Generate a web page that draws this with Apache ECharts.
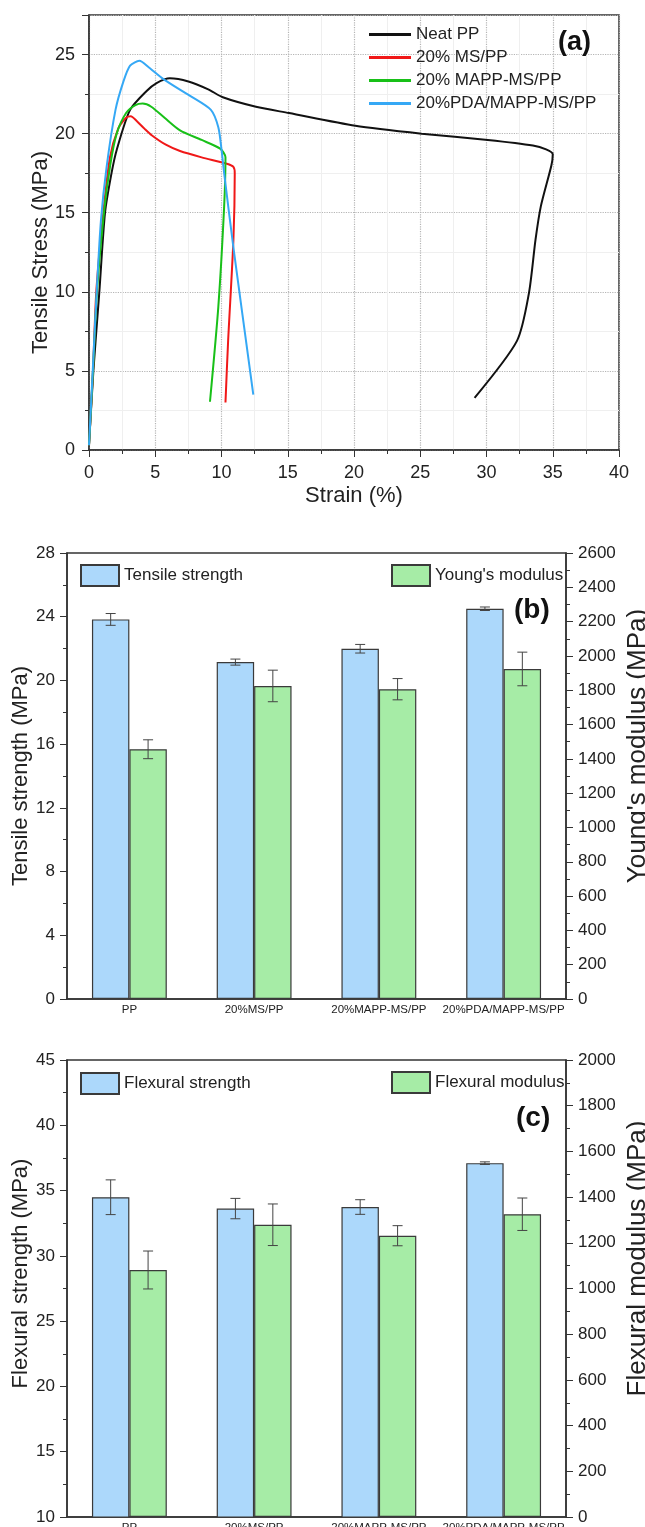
<!DOCTYPE html>
<html>
<head>
<meta charset="utf-8">
<script src="https://cdn.jsdelivr.net/npm/echarts@6/dist/echarts.min.js"></script>
<style>
  html, body { margin: 0; padding: 0; background: #fff; }
  #chart { width: 645px; height: 1527px; }
</style>
</head>
<body>
<div id="chart"></div>
<script>
// (a) stress-strain curves
const neatStrain = [0, 0.33, 0.78, 1.21, 1.7, 2.1, 3.1, 4.35, 5.1, 6.1, 7.5, 9.0, 10.1, 12.6, 15.1, 20.1, 25.1, 30.1, 33.5, 34.5, 35.0, 34.9, 34.1, 33.7, 33.2, 32.3, 29.1];
const neatStress = [0.3, 5, 10, 15, 17.5, 19, 21.5, 22.7, 23.2, 23.5, 23.3, 22.8, 22.3, 21.7, 21.3, 20.5, 20.0, 19.6, 19.25, 19.0, 18.7, 18.0, 15.4, 13.3, 9.9, 6.9, 3.3];

const msStrain = [0, 0.3, 0.55, 1.08, 1.58, 2.2, 2.8, 3.15, 3.6, 4.2, 4.73, 5.8, 6.87, 8.5, 10.4, 10.9, 11.0, 10.9, 10.5, 10.3];
const msStress = [0.3, 5, 10, 15, 18.5, 20.3, 21.0, 21.1, 20.8, 20.3, 19.9, 19.3, 18.9, 18.5, 18.1, 17.9, 17.5, 13.3, 6.9, 3.0];

const mappStrain = [0, 0.3, 0.6, 1.13, 1.6, 2.09, 2.8, 3.5, 4.05, 4.7, 5.7, 6.87, 8.5, 9.9, 10.3, 10.2, 9.76, 9.13];
const mappStress = [0.3, 5, 10, 15, 18, 20, 21.3, 21.8, 21.9, 21.7, 21.0, 20.2, 19.6, 19.05, 18.5, 15.4, 9.05, 3.05];

const pdaStrain = [0, 0.28, 0.58, 0.9, 1.33, 2.0, 2.6, 3.1, 3.8, 4.5, 5.7, 7.6, 9.2, 9.76, 10.0, 10.2, 10.9, 12.4];
const pdaStress = [0.3, 5, 10, 14.5, 17.9, 21.5, 23.3, 24.3, 24.6, 24.2, 23.4, 22.4, 21.5, 20.4, 19.0, 17.5, 12.8, 3.5];

// (b) and (c) bars
const categories = ['PP', '20%MS/PP', '20%MAPP-MS/PP', '20%PDA/MAPP-MS/PP'];
const tensileStrength = [23.83, 21.15, 21.99, 24.5];
const tensileStrengthErr = [0.37, 0.19, 0.27, 0.11];
const youngsModulus = [1456, 1825, 1806, 1924];
const youngsModulusErr = [55, 92, 62, 98];
const flexuralStrength = [34.49, 33.62, 33.74, 37.1];
const flexuralStrengthErr = [1.33, 0.78, 0.56, 0.1];
const flexuralModulus = [1081, 1279, 1231, 1325];
const flexuralModulusErr = [83, 91, 44, 71];

const FONT = 'Liberation Sans, Arial, sans-serif';
const AXIS = '#333';
const BLUE = '#acd8fb';
const GREEN = '#a6eca6';

const zip = (xs, ys) => xs.map((x, i) => [x, ys[i]]);
const withErr = (vals, errs) => vals.map((v, i) => [i, v, errs[i]]);

function errorBars(side) {
  return function (params, api) {
    const idx = api.value(0);
    const val = api.value(1);
    const err = api.value(2);
    const band = api.size([1, 0])[0];
    const x = api.coord([idx, val])[0] + side * band * 0.15;
    const yHi = api.coord([idx, val + err])[1];
    const yLo = api.coord([idx, val - err])[1];
    const cap = 5;
    const style = { stroke: '#444', lineWidth: 1 };
    return {
      type: 'group',
      children: [
        { type: 'line', shape: { x1: x, y1: yHi, x2: x, y2: yLo }, style },
        { type: 'line', shape: { x1: x - cap, y1: yHi, x2: x + cap, y2: yHi }, style },
        { type: 'line', shape: { x1: x - cap, y1: yLo, x2: x + cap, y2: yLo }, style }
      ]
    };
  };
}

function valueAxis(extra) {
  return Object.assign({
    type: 'value',
    axisLine: { show: true, lineStyle: { color: AXIS, width: 1.5 } },
    axisTick: { show: true, inside: false, length: 7, lineStyle: { color: AXIS } },
    minorTick: { show: true, splitNumber: 2, length: 4, lineStyle: { color: AXIS } },
    splitLine: { show: false },
    axisLabel: { color: '#222', fontSize: 17, fontFamily: FONT, margin: 12, formatter: v => String(v) },
    nameLocation: 'middle',
    nameRotate: 90,
    nameMoveOverlap: false,
    nameTextStyle: { color: '#222', fontSize: 22, fontFamily: FONT }
  }, extra);
}

function categoryAxis(gridIndex) {
  return {
    type: 'category',
    gridIndex,
    data: categories,
    axisLine: { show: true, lineStyle: { color: AXIS, width: 1.5 } },
    axisTick: { show: false },
    axisLabel: { color: '#222', fontSize: 11.5, fontFamily: FONT, margin: 5, interval: 0 }
  };
}

function barSeries(name, data, xi, yi, color) {
  return {
    name, type: 'bar', xAxisIndex: xi, yAxisIndex: yi, data,
    barWidth: '30%', barGap: '0%',
    itemStyle: { color, borderColor: '#3a3a3a', borderWidth: 1.2 }
  };
}

function errSeries(data, xi, yi, side) {
  return {
    type: 'custom', xAxisIndex: xi, yAxisIndex: yi, z: 5,
    renderItem: errorBars(side),
    encode: { x: 0, y: 1 },
    data
  };
}

function curve(name, xs, ys, color) {
  return {
    name, type: 'line', xAxisIndex: 0, yAxisIndex: 0,
    data: zip(xs, ys), smooth: 0.25, symbol: 'none',
    lineStyle: { color, width: 2 }, itemStyle: { color }
  };
}

function barLegend(name, left, top) {
  return {
    data: [name], left, top, padding: 0,
    icon: 'rect', itemWidth: 38, itemHeight: 21, itemTextGap: 5,
    textStyle: { fontSize: 17, color: '#222', fontFamily: FONT }
  };
}

const chart = echarts.init(document.getElementById('chart'));

const option = {
  animation: false,
  backgroundColor: '#fff',
  textStyle: { fontFamily: FONT },
  title: [
    { text: '(a)', left: 553, top: 24, textStyle: { fontSize: 27, fontWeight: 'bold', color: '#111', fontFamily: FONT } },
    { text: '(b)', left: 509, top: 591, textStyle: { fontSize: 28, fontWeight: 'bold', color: '#111', fontFamily: FONT } },
    { text: '(c)', left: 511, top: 1099, textStyle: { fontSize: 28, fontWeight: 'bold', color: '#111', fontFamily: FONT } }
  ],
  legend: [
    {
      data: ['Neat PP', '20% MS/PP', '20% MAPP-MS/PP', '20%PDA/MAPP-MS/PP'],
      orient: 'vertical', left: 369, top: 26, padding: 0,
      icon: 'rect', itemWidth: 42, itemHeight: 3, itemGap: 6, itemTextGap: 4,
      textStyle: { fontSize: 17, color: '#222', fontFamily: FONT }
    },
    barLegend('Tensile strength', 80, 564),
    barLegend("Young's modulus", 391, 564),
    barLegend('Flexural strength', 80, 1072),
    barLegend('Flexural modulus', 391, 1071)
  ],
  grid: [
    { left: 89, top: 15, width: 530, height: 435, outerBoundsMode: 'none', show: true, borderColor: AXIS, borderWidth: 1.5 },
    { left: 67, top: 553, width: 499, height: 446, outerBoundsMode: 'none', show: true, borderColor: AXIS, borderWidth: 1.5 },
    { left: 67, top: 1060, width: 499, height: 457, outerBoundsMode: 'none', show: true, borderColor: AXIS, borderWidth: 1.5 }
  ],
  xAxis: [
    valueAxis({
      gridIndex: 0, min: 0, max: 40, interval: 5,
      name: 'Strain (%)', nameGap: 35, nameRotate: 0,
      axisLabel: { color: '#222', fontSize: 18, fontFamily: FONT, margin: 14 },
      splitLine: { show: true, lineStyle: { color: '#b5b5b5', type: 'dotted', width: 1.2 } },
      minorSplitLine: { show: true, lineStyle: { color: '#efefef', width: 1 } }
    }),
    categoryAxis(1),
    categoryAxis(2)
  ],
  yAxis: [
    valueAxis({
      gridIndex: 0, min: 0, max: 27.5, interval: 5,
      name: 'Tensile Stress (MPa)', nameGap: 37,
      nameTextStyle: { color: '#222', fontSize: 22, fontFamily: FONT, padding: [0, 40, 0, 0] },
      axisLabel: { color: '#222', fontSize: 18, fontFamily: FONT, margin: 14, showMaxLabel: false },
      splitLine: { show: true, lineStyle: { color: '#b5b5b5', type: 'dotted', width: 1.2 } },
      minorSplitLine: { show: true, lineStyle: { color: '#efefef', width: 1 } }
    }),
    valueAxis({
      gridIndex: 1, position: 'left', min: 0, max: 28, interval: 4,
      name: 'Tensile strength (MPa)', nameGap: 35
    }),
    valueAxis({
      gridIndex: 1, position: 'right', min: 0, max: 2600, interval: 200,
      name: "Young's modulus (MPa)", nameGap: 59,
      nameTextStyle: { color: '#222', fontSize: 26, fontFamily: FONT, padding: [0, 0, 0, 60] }
    }),
    valueAxis({
      gridIndex: 2, position: 'left', min: 10, max: 45, interval: 5,
      name: 'Flexural strength (MPa)', nameGap: 35,
      nameTextStyle: { color: '#222', fontSize: 22, fontFamily: FONT, padding: [0, 0, 0, 30] }
    }),
    valueAxis({
      gridIndex: 2, position: 'right', min: 0, max: 2000, interval: 200,
      name: 'Flexural modulus (MPa)', nameGap: 59,
      nameTextStyle: { color: '#222', fontSize: 26, fontFamily: FONT, padding: [0, 0, 0, 60] }
    })
  ],
  series: [
    curve('Neat PP', neatStrain, neatStress, '#111111'),
    curve('20% MS/PP', msStrain, msStress, '#f01818'),
    curve('20% MAPP-MS/PP', mappStrain, mappStress, '#18c018'),
    curve('20%PDA/MAPP-MS/PP', pdaStrain, pdaStress, '#35a8f5'),

    barSeries('Tensile strength', tensileStrength, 1, 1, BLUE),
    barSeries("Young's modulus", youngsModulus, 1, 2, GREEN),
    errSeries(withErr(tensileStrength, tensileStrengthErr), 1, 1, -1),
    errSeries(withErr(youngsModulus, youngsModulusErr), 1, 2, 1),

    barSeries('Flexural strength', flexuralStrength, 2, 3, BLUE),
    barSeries('Flexural modulus', flexuralModulus, 2, 4, GREEN),
    errSeries(withErr(flexuralStrength, flexuralStrengthErr), 2, 3, -1),
    errSeries(withErr(flexuralModulus, flexuralModulusErr), 2, 4, 1)
  ]
};

chart.setOption(option);
</script>
</body>
</html>
